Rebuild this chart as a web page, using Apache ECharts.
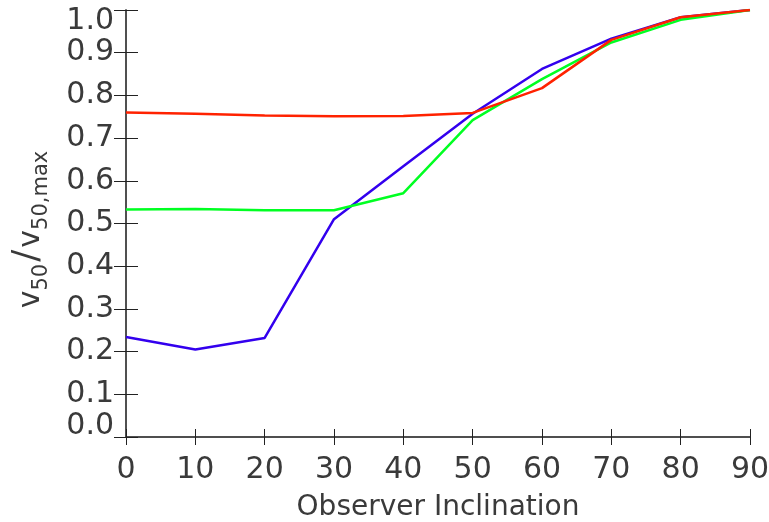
<!DOCTYPE html>
<html>
<head>
<meta charset="utf-8">
<script src="https://cdn.jsdelivr.net/npm/echarts@6/dist/echarts.min.js"></script>
<style>
html,body{margin:0;padding:0;background:#fff;}
#chart{width:769px;height:522px;}
</style>
</head>
<body>
<div id="chart"></div>
<script>
var inclinations = [0, 10, 20, 30, 40, 50, 60, 70, 80, 90];
var redSeries   = [0.760, 0.757, 0.753, 0.751, 0.752, 0.759, 0.817, 0.930, 0.983, 1.000];
var greenSeries = [0.533, 0.534, 0.531, 0.531, 0.571, 0.742, 0.838, 0.924, 0.977, 1.000];
var blueSeries  = [0.234, 0.205, 0.232, 0.510, 0.634, 0.757, 0.862, 0.933, 0.983, 1.000];
var xTickLabels = ['0','10','20','30','40','50','60','70','80','90'];
var yTickLabels = ['0.0','0.1','0.2','0.3','0.4','0.5','0.6','0.7','0.8','0.9','1.0'];

function pairs(vals){ return inclinations.map(function(x,i){ return [x, vals[i]]; }); }

var FONT = 'DejaVu Sans';
var axisColor = '#444';
var txt = '#3a3a3a';

var chart = echarts.init(document.getElementById('chart'), null, {renderer:'canvas'});
var option = {
  animation: false,
  backgroundColor: '#fff',
  grid: {left: 126, right: 19, top: 10, bottom: 85, containLabel: false, outerBoundsMode: 'none'},
  xAxis: [{
    type: 'value', min: 0, max: 90, interval: 10, position: 'bottom',
    name: 'Observer Inclination', nameLocation: 'middle', nameGap: 57,
    nameTextStyle: {fontFamily: FONT, fontSize: 28, color: txt},
    axisLine: {show: true, lineStyle: {color: axisColor, width: 1.5}},
    axisTick: {show: true, inside: true, length: 8, lineStyle: {color: '#222', width: 1}},
    axisLabel: {fontFamily: FONT, fontSize: 30, color: txt, margin: 18,
      formatter: function(v){ return xTickLabels[Math.round(v/10)]; }},
    splitLine: {show: false}
  },{
    type: 'value', min: 0, max: 90, interval: 10, position: 'top',
    axisLine: {show: true, lineStyle: {color: axisColor, width: 1.5}},
    axisTick: {show: true, inside: true, length: 8, lineStyle: {color: '#222', width: 1}},
    axisLabel: {show: false}, splitLine: {show: false}
  }],
  yAxis: [{
    type: 'value', min: 0, max: 1, interval: 0.1, position: 'left',
    name: '{v|v}{s|50}{sl|/}{v|v}{se|50,max}', nameLocation: 'middle', nameRotate: 90, nameGap: 80,
    nameTextStyle: {
      fontFamily: FONT, color: txt,
      rich: {
        v: {fontFamily: FONT, fontSize: 30, color: txt, verticalAlign: 'bottom', lineHeight: 36},
        s: {fontFamily: FONT, fontSize: 21, color: txt, verticalAlign: 'bottom', lineHeight: 24, padding: [0,0,-6,0]},
        se: {fontFamily: FONT, fontSize: 21, color: txt, verticalAlign: 'bottom', lineHeight: 24, padding: [0,12,-6,0]},
        sl: {fontFamily: FONT, fontSize: 36, color: txt, verticalAlign: 'bottom', lineHeight: 40, padding: [0,2,0,2]}
      }
    },
    axisLine: {show: true, lineStyle: {color: axisColor, width: 1.5}},
    axisTick: {show: true, inside: true, length: 12, lineStyle: {color: '#222', width: 1}},
    axisLabel: {fontFamily: FONT, fontSize: 30, color: txt, margin: 12, lineHeight: 22,
      verticalAlignMaxLabel: 'top', verticalAlignMinLabel: 'bottom',
      formatter: function(v){ return yTickLabels[Math.round(v*10)]; }},
    splitLine: {show: false}
  },{
    type: 'value', min: 0, max: 1, interval: 0.1, position: 'right',
    axisLine: {show: true, lineStyle: {color: axisColor, width: 1.5}},
    axisTick: {show: true, inside: true, length: 12, lineStyle: {color: '#222', width: 1}},
    axisLabel: {show: false}, splitLine: {show: false}
  }],
  series: [
    {type: 'line', data: pairs(blueSeries), showSymbol: false, lineStyle: {color: '#3300ee', width: 2.5}, z: 3},
    {type: 'line', data: pairs(greenSeries), showSymbol: false, lineStyle: {color: '#00ff22', width: 2.5}, z: 4},
    {type: 'line', data: pairs(redSeries), showSymbol: false, lineStyle: {color: '#ff2200', width: 2.5}, z: 5}
  ]
};
chart.setOption(option);
</script>
</body>
</html>
